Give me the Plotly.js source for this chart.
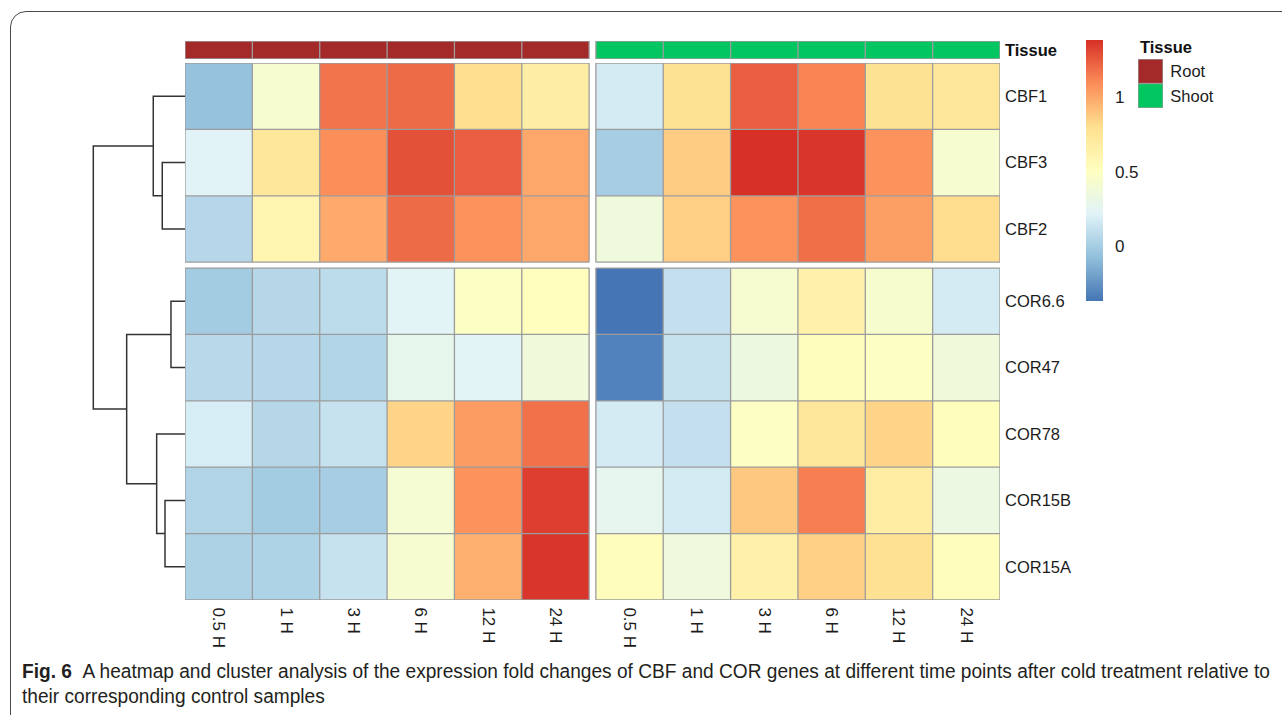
<!DOCTYPE html>
<html><head><meta charset="utf-8">
<script src="https://cdn.plot.ly/plotly-3.0.1.min.js"></script>
<style>
html,body{margin:0;padding:0;width:1282px;height:715px;overflow:hidden;background:#fff;}
#frame{position:absolute;left:10px;top:11px;width:1400px;height:900px;border:1.3px solid #4a4a4a;border-radius:16px;pointer-events:none;}
#chart{position:absolute;left:0;top:0;width:1282px;height:715px;}
#caption{position:absolute;left:22px;top:659px;font-family:'Liberation Sans',Arial,sans-serif;font-size:20px;line-height:25px;color:#231f20;white-space:nowrap;transform-origin:0 0;}
#caption span{display:inline-block;}
</style></head><body>
<div id="frame"></div>
<div id="chart"></div>
<div id="caption"><span id="cap1"><b>Fig. 6</b>&nbsp;&nbsp;A heatmap and cluster analysis of the expression fold changes of CBF and COR genes at different time points after cold treatment relative to</span><br><span>their corresponding control samples</span></div>
<script>
// ---------------- data ----------------
const timeLabels = ['0.5 H','1 H','3 H','6 H','12 H','24 H'];
const tissueNames = ['Root','Shoot'];
const tissueColors = ['#A42A2A','#02C760'];
const cbfGenes = ['CBF1','CBF3','CBF2'];
const corGenes = ['COR6.6','COR47','COR78','COR15B','COR15A'];
// each: Root 0.5H..24H, Shoot 0.5H..24H
const CBF1   = [-0.06, 0.42, 1.17, 1.20, 0.80, 0.67,   0.17, 0.78, 1.24, 1.12, 0.78, 0.74];
const CBF3   = [ 0.22, 0.73, 1.09, 1.28, 1.24, 1.00,   0.00, 0.87, 1.385, 1.37, 1.07, 0.42];
const CBF2   = [ 0.06, 0.60, 0.99, 1.20, 1.07, 1.00,   0.36, 0.86, 1.07, 1.19, 1.03, 0.81];
const COR6_6 = [-0.01, 0.055, 0.085, 0.23, 0.48, 0.52, -0.37, 0.11, 0.42, 0.64, 0.43, 0.17];
const COR47  = [ 0.07, 0.06, 0.045, 0.28, 0.23, 0.37,  -0.32, 0.12, 0.34, 0.53, 0.48, 0.37];
const COR78  = [ 0.18, 0.055, 0.12, 0.84, 1.04, 1.18,   0.17, 0.11, 0.48, 0.74, 0.84, 0.53];
const COR15B = [ 0.04, -0.01, 0.00, 0.41, 1.07, 1.34,   0.27, 0.17, 0.88, 1.14, 0.68, 0.33];
const COR15A = [ 0.025, 0.035, 0.12, 0.42, 0.97, 1.37,  0.53, 0.36, 0.64, 0.86, 0.79, 0.53];
// dendrogram merges (hclust style), heights relative to root
const mergeA = ['CBF3','CBF1','COR6.6','COR15B','COR78','m2','m1'];
const mergeB = ['CBF2','m0','COR47','COR15A','m3','m4','m5'];
const mergeH = [0.248, 0.346, 0.153, 0.218, 0.309, 0.636, 1.0];
const colorTicks = [0, 0.5, 1];
const colorTickText = ['0','0.5','1'];

// ---------------- layout helpers ----------------
const W = 1282, H = 715;
const fx = p => p / W;
const fy = p => 1 - p / H;
const GX = 0.1, GY = 0.088;          // gaps between blocks (cell units)
const font = "'Liberation Sans', Arial, sans-serif";
const borderCol = '#9c9c9c';
const txtCol = '#1c1c1c';

const cbfRows = [CBF1, CBF3, CBF2];
const corRows = [COR6_6, COR47, COR78, COR15B, COR15A];
const nT = timeLabels.length;

const xEdges = [];
for (let i = 0; i <= nT; i++) xEdges.push(i);
for (let i = 0; i <= nT; i++) xEdges.push(nT + GX + i);
const xCenters = [];
for (let i = 0; i < nT; i++) xCenters.push(i + 0.5);
for (let i = 0; i < nT; i++) xCenters.push(nT + GX + i + 0.5);
const xTickText = timeLabels.concat(timeLabels);

const nC = cbfGenes.length, nR = corGenes.length;
const yEdges = [];
for (let i = 0; i <= nC; i++) yEdges.push(i);
for (let i = 0; i <= nR; i++) yEdges.push(nC + GY + i);
const yCenters = [];
for (let i = 0; i < nC; i++) yCenters.push(i + 0.5);
for (let i = 0; i < nR; i++) yCenters.push(nC + GY + i + 0.5);
const genes = cbfGenes.concat(corGenes);
const yMax = nC + GY + nR, xMax = 2 * nT + GX;

const splitRow = r => r.slice(0, nT).concat([null]).concat(r.slice(nT));
const z = cbfRows.map(splitRow).concat([new Array(2 * nT + 1).fill(null)]).concat(corRows.map(splitRow));

const allVals = cbfRows.concat(corRows).flat();
const vmin = Math.min(...allVals), vmax = Math.max(...allVals);
const pal = ['#4575B4','#91BFDB','#E0F3F8','#FFFFBF','#FEE090','#FC8D59','#D73027'];
const colorscale = pal.map((c, i) => [i / (pal.length - 1), c]);

function gridLines(x0, x1, nx, y0, y1, ny) {
  const xs = [], ys = [];
  for (let i = 0; i <= nx; i++) { const x = x0 + (x1 - x0) * i / nx; xs.push(x, x, null); ys.push(y0, y1, null); }
  for (let j = 0; j <= ny; j++) { const y = y0 + (y1 - y0) * j / ny; xs.push(x0, x1, null); ys.push(y, y, null); }
  return {xs, ys};
}
function borderTrace(blocks, xa, ya) {
  let xs = [], ys = [];
  blocks.forEach(b => { const g = gridLines(...b); xs = xs.concat(g.xs); ys = ys.concat(g.ys); });
  return {type:'scatter', mode:'lines', x: xs, y: ys, xaxis: xa, yaxis: ya,
          line:{color:borderCol, width:1.3}, hoverinfo:'skip', showlegend:false};
}

const traces = [];
traces.push({type:'heatmap', x: xEdges, y: yEdges, z: z,
  xaxis:'x', yaxis:'y', colorscale: colorscale, zmin: vmin, zmax: vmax, zsmooth:false, hoverongaps:false,
  colorbar:{x: fx(1086), xanchor:'left', xpad:0, y: fy(40), yanchor:'top', ypad:0, len: 261, lenmode:'pixels',
            thickness: 17, thicknessmode:'pixels', outlinewidth:0, tickvals: colorTicks, ticktext: colorTickText,
            ticks:'outside', ticklen:9, tickcolor:'rgba(0,0,0,0)', tickfont:{family:font, size:17, color:txtCol}}});
traces.push(borderTrace([
  [0, nT, nT, 0, nC, nC], [nT + GX, xMax, nT, 0, nC, nC],
  [0, nT, nT, nC + GY, yMax, nR], [nT + GX, xMax, nT, nC + GY, yMax, nR]], 'x', 'y'));

const tissueIdx = [];
for (let i = 0; i < nT; i++) tissueIdx.push(0);
tissueIdx.push(null);
for (let i = 0; i < nT; i++) tissueIdx.push(1);
const tissueScale = [[0, tissueColors[0]], [0.5, tissueColors[0]], [0.5, tissueColors[1]], [1, tissueColors[1]]];
traces.push({type:'heatmap', x: xEdges, y: [0, 1], z: [tissueIdx], xaxis:'x', yaxis:'y2',
  colorscale: tissueScale, zmin:0, zmax:1, showscale:false, zsmooth:false, hoverongaps:false});
traces.push(borderTrace([[0, nT, nT, 0, 1, 1], [nT + GX, xMax, nT, 0, 1, 1]], 'x', 'y2'));

traces.push({type:'heatmap', x:[0, 1], y:[0, 1, 2], z: tissueNames.map((t, i) => [i]), xaxis:'x4', yaxis:'y4',
  colorscale: tissueScale, zmin:0, zmax:1, showscale:false, zsmooth:false});
traces.push(borderTrace([[0, 1, 1, 0, 2, 2]], 'x4', 'y4'));

const leafPos = {}; genes.forEach((g, i) => leafPos[g] = yCenters[i]);
const nodePos = {}, nodeH = {};
const dx = [], dy = [];
const posOf = k => (k in leafPos) ? leafPos[k] : nodePos[k];
const hOf = k => (k in leafPos) ? 0 : nodeH[k];
mergeA.forEach((a, i) => {
  const b = mergeB[i], h = mergeH[i];
  dx.push(hOf(a), h, h, hOf(b), null);
  dy.push(posOf(a), posOf(a), posOf(b), posOf(b), null);
  nodePos['m' + i] = (posOf(a) + posOf(b)) / 2;
  nodeH['m' + i] = h;
});
const maxH = Math.max(...mergeH);
traces.push({type:'scatter', mode:'lines', x: dx, y: dy, xaxis:'x3', yaxis:'y',
  line:{color:'#333', width:1.5}, hoverinfo:'skip', showlegend:false});

const layout = {
  width: W, height: H, margin:{l:0, r:0, t:0, b:0},
  paper_bgcolor:'rgba(0,0,0,0)', plot_bgcolor:'rgba(0,0,0,0)', showlegend:false,
  font:{family:font, color:txtCol},
  xaxis:{domain:[fx(185), fx(1000)], range:[0, xMax], anchor:'y', tickvals: xCenters, ticktext: xTickText,
         tickangle:90, ticks:'outside', ticklen:3, tickcolor:'rgba(0,0,0,0)', showgrid:false, zeroline:false, showline:false,
         tickfont:{family:font, size:17, color:txtCol}},
  yaxis:{domain:[fy(600), fy(63)], range:[yMax, 0], anchor:'x', side:'right', tickvals: yCenters, ticktext: genes,
         ticks:'', ticklabelstandoff:4, showgrid:false, zeroline:false, showline:false,
         tickfont:{family:font, size:16.5, color:txtCol}},
  yaxis2:{domain:[fy(59), fy(41)], range:[1, 0], anchor:'x', side:'right', tickvals:[0.5], ticktext:['<b>Tissue</b>'],
          ticks:'', ticklabelstandoff:4, showgrid:false, zeroline:false, tickfont:{family:font, size:16.5, color:'#111'}},
  xaxis3:{domain:[fx(185 - 91.7 * 1.05), fx(185)], range:[maxH * 1.05, 0], anchor:'y', visible:false},
  xaxis4:{domain:[fx(1138), fx(1163)], range:[0, 1], anchor:'y4', visible:false},
  yaxis4:{domain:[fy(108), fy(59)], range:[2, 0], anchor:'x4', side:'right', tickvals:[0.5, 1.5], ticktext: tissueNames,
          ticks:'outside', ticklen:3, tickcolor:'rgba(0,0,0,0)', showgrid:false, zeroline:false, showline:false,
          tickfont:{family:font, size:16.5, color:txtCol}},
  annotations:[{xref:'paper', yref:'paper', x: fx(1138), y: fy(47), xanchor:'left', yanchor:'middle',
                text:'<b>Tissue</b>', showarrow:false, font:{family:font, size:16.5, color:'#111'}}]
};
Plotly.newPlot('chart', traces, layout, {displayModeBar:false, staticPlot:true});

// fit caption width to the reference's condensed face
const cap = document.getElementById('caption');
const w1 = document.getElementById('cap1').getBoundingClientRect().width;
cap.style.transform = 'scaleX(' + (1248 / w1) + ')';
</script>
</body></html>
